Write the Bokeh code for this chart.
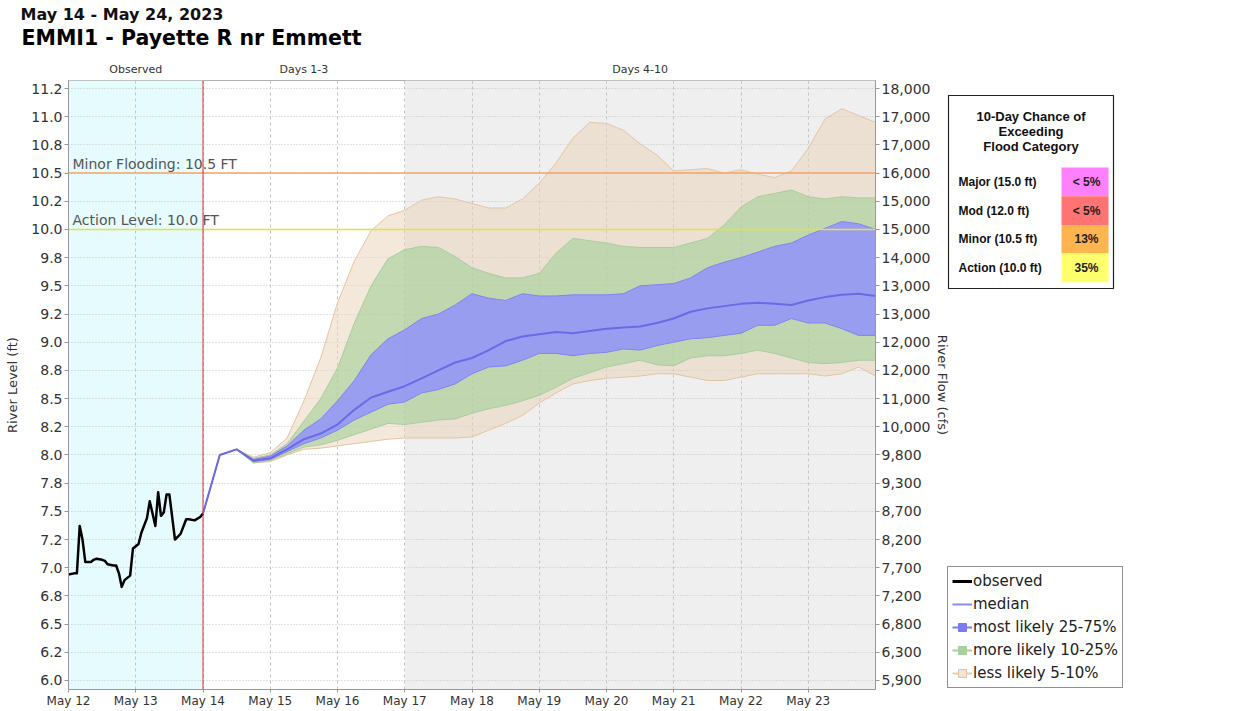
import pandas as pd
from bokeh.plotting import figure
from bokeh.models import (Range1d, LinearAxis, FixedTicker, Span, Label, BoxAnnotation,
                          Legend, LegendItem)
from bokeh.layouts import row, column
from bokeh.embed import file_html
from bokeh.resources import INLINE
from bokeh.core.properties import value

# ---------------- data ----------------
title_text = "EMMI1 - Payette R nr Emmett"
subtitle_text = "May 14 - May 24, 2023"

obs_start = "2023-05-12 00:00"
obs_hours = [0, 2, 3, 4, 5, 6, 8, 9, 10, 12, 13, 14, 16, 17, 18, 19, 20, 22, 23, 25, 26,
             28, 29, 31, 32, 33, 34, 35, 36, 38, 40, 42, 43, 45, 47, 48]
obs_level = [6.94, 6.95, 6.95, 7.37, 7.25, 7.05, 7.05, 7.07, 7.08, 7.07, 7.06, 7.03, 7.02,
             7.02, 6.95, 6.83, 6.89, 6.93, 7.17, 7.21, 7.31, 7.44, 7.59, 7.37, 7.67, 7.46,
             7.49, 7.65, 7.65, 7.25, 7.30, 7.43, 7.43, 7.42, 7.45, 7.48]

fc_start = "2023-05-14 00:00"
fc_step_hours = 6
fc_median = [7.48, 8.00, 8.05, 7.95, 7.97, 8.05, 8.14, 8.19, 8.27, 8.40, 8.51, 8.56, 8.61,
             8.68, 8.75, 8.82, 8.86, 8.93, 9.01, 9.05, 9.07, 9.09, 9.08, 9.10, 9.12, 9.13,
             9.14, 9.17, 9.21, 9.27, 9.30, 9.32, 9.34, 9.35, 9.34, 9.33, 9.37, 9.40, 9.42,
             9.43, 9.41]
fc_p75 = [7.48, 8.00, 8.05, 7.96, 7.99, 8.08, 8.22, 8.32, 8.48, 8.66, 8.89, 9.03, 9.11,
          9.21, 9.25, 9.33, 9.43, 9.39, 9.37, 9.43, 9.41, 9.41, 9.42, 9.42, 9.42, 9.43,
          9.50, 9.51, 9.52, 9.57, 9.66, 9.71, 9.75, 9.80, 9.85, 9.88, 9.95, 10.01, 10.07,
          10.05, 10.00]
fc_p25 = [7.48, 8.00, 8.05, 7.94, 7.96, 8.03, 8.10, 8.15, 8.22, 8.31, 8.38, 8.45, 8.47,
          8.55, 8.58, 8.63, 8.72, 8.78, 8.79, 8.84, 8.90, 8.90, 8.88, 8.90, 8.91, 8.94,
          8.93, 8.97, 9.00, 9.03, 9.04, 9.06, 9.08, 9.15, 9.15, 9.21, 9.17, 9.17, 9.12,
          9.06, 9.06]
fc_p90 = [7.48, 8.00, 8.05, 7.97, 8.00, 8.10, 8.30, 8.50, 8.77, 9.17, 9.50, 9.74, 9.82,
          9.85, 9.84, 9.76, 9.66, 9.61, 9.57, 9.57, 9.61, 9.79, 9.92, 9.90, 9.88, 9.85,
          9.84, 9.84, 9.84, 9.88, 9.92, 10.04, 10.20, 10.29, 10.32, 10.35, 10.29, 10.27,
          10.29, 10.28, 10.28]
fc_p10 = [7.48, 8.00, 8.05, 7.93, 7.95, 8.01, 8.07, 8.09, 8.13, 8.18, 8.23, 8.28, 8.27,
          8.29, 8.31, 8.32, 8.37, 8.41, 8.44, 8.48, 8.53, 8.60, 8.68, 8.73, 8.78, 8.81,
          8.84, 8.80, 8.79, 8.86, 8.88, 8.88, 8.90, 8.93, 8.90, 8.86, 8.82, 8.81, 8.82,
          8.84, 8.84]
fc_p95 = [7.48, 8.00, 8.05, 7.98, 8.02, 8.15, 8.48, 8.86, 9.35, 9.72, 9.99, 10.12, 10.17,
          10.26, 10.29, 10.27, 10.23, 10.19, 10.19, 10.27, 10.41, 10.59, 10.81, 10.95,
          10.94, 10.88, 10.76, 10.66, 10.52, 10.53, 10.54, 10.50, 10.53, 10.49, 10.46,
          10.52, 10.72, 10.98, 11.07, 11.01, 10.95]
fc_p05 = [7.48, 8.00, 8.05, 7.93, 7.94, 8.00, 8.05, 8.06, 8.08, 8.10, 8.12, 8.14, 8.15,
          8.15, 8.15, 8.15, 8.16, 8.22, 8.28, 8.35, 8.46, 8.55, 8.63, 8.66, 8.68, 8.69,
          8.70, 8.72, 8.72, 8.69, 8.66, 8.66, 8.69, 8.72, 8.72, 8.72, 8.72, 8.70, 8.72,
          8.78, 8.70]

level_ticks = [6.0, 6.25, 6.5, 6.75, 7.0, 7.25, 7.5, 7.75, 8.0, 8.25, 8.5, 8.75, 9.0,
               9.25, 9.5, 9.75, 10.0, 10.25, 10.5, 10.75, 11.0, 11.25]
level_tick_labels = ["6.0", "6.2", "6.5", "6.8", "7.0", "7.2", "7.5", "7.8", "8.0", "8.2",
                     "8.5", "8.8", "9.0", "9.2", "9.5", "9.8", "10.0", "10.2", "10.5",
                     "10.8", "11.0", "11.2"]
flow_tick_labels = ["5,900", "6,300", "6,800", "7,200", "7,700", "8,200", "8,700", "9,300",
                    "9,800", "10,000", "11,000", "12,000", "12,000", "13,000", "13,000",
                    "14,000", "15,000", "15,000", "16,000", "17,000", "17,000", "18,000"]

day_dates = ["2023-05-%02d" % d for d in range(12, 24)]
day_labels = ["May 12", "May 13", "May 14", "May 15", "May 16", "May 17", "May 18",
              "May 19", "May 20", "May 21", "May 22", "May 23"]

period_names = ["Observed", "Days 1-3", "Days 4-10"]
period_bounds = ["2023-05-12", "2023-05-14", "2023-05-17", "2023-05-24"]

flood_levels = [10.5, 10.0]
flood_texts = ["Minor Flooding: 10.5 FT", "Action Level: 10.0 FT"]

cat_labels = ["Major (15.0 ft)", "Mod (12.0 ft)", "Minor (10.5 ft)", "Action (10.0 ft)"]
cat_chance = ["< 5%", "< 5%", "13%", "35%"]
table_title = ["10-Day Chance of", "Exceeding", "Flood Category"]

legend_labels = ["observed", "median", "most likely 25-75%", "more likely 10-25%",
                 "less likely 5-10%"]

# ---------------- helpers ----------------
def ms(s):
    return int(pd.Timestamp(s).value // 10**6)

obs_x = [pd.Timestamp(obs_start) + pd.Timedelta(hours=h) for h in obs_hours]
fc_x = [pd.Timestamp(fc_start) + pd.Timedelta(hours=fc_step_hours * i) for i in range(len(fc_median))]
day_ms = [ms(d) for d in day_dates]
bounds_ms = [ms(b) for b in period_bounds]
period_centers = [int((a + b) // 2) for a, b in zip(bounds_ms[:-1], bounds_ms[1:])]

FONT = "DejaVu Sans"
ylo, yhi = 5.920, 11.321

# layout (pixels)
PAGE_W, PAGE_H = 1236, 711
HEAD_H = 75
W_MAIN = 953
H_MAIN = PAGE_H - HEAD_H
FR_L, FR_R, FR_T, FR_B = 68, 78, 5, 22   # borders around the plot frame
FRAME_TOP = HEAD_H + FR_T                 # page y of the frame top
FRAME_BOT = PAGE_H - FR_B                 # page y of the frame bottom
Q_SHIFT = 6
Q_X0 = W_MAIN - Q_SHIFT
Q_W = PAGE_W - W_MAIN

# colours
C_OBS_BG = "#e6fbfd"
C_FUT_BG = "#efefef"
C_TAN, C_TAN_E = "#e8d2b5", "#e2c6a4"
C_GRN, C_GRN_E = "#a3cf98", "#a9cd9f"
C_BLU, C_BLU_E = "#8e8eff", "#8383f2"
C_MED = "#6a6ae6"
flood_colors = ["#f5a46a", "#e6e23a"]
cat_colors = ["#ff80ff", "#ff7373", "#ffb450", "#ffff6e"]

# ---------------- main figure ----------------
p = figure(width=W_MAIN, height=H_MAIN, x_axis_type="datetime", title=None,
           x_range=Range1d(bounds_ms[0], bounds_ms[-1]), y_range=Range1d(ylo, yhi),
           output_backend="svg", toolbar_location=None,
           min_border_left=FR_L, min_border_right=FR_R, min_border_top=FR_T,
           min_border_bottom=FR_B)
p.outline_line_color = "#b0b0b0"
p.background_fill_color = "white"

p.add_layout(BoxAnnotation(left=bounds_ms[0], right=bounds_ms[1], fill_color=C_OBS_BG,
                           fill_alpha=1, line_alpha=0, level="image"))
p.add_layout(BoxAnnotation(left=bounds_ms[2], right=bounds_ms[3], fill_color=C_FUT_BG,
                           fill_alpha=1, line_alpha=0, level="image"))

# grids
p.xgrid.ticker = FixedTicker(ticks=day_ms)
p.ygrid.ticker = FixedTicker(ticks=level_ticks)
p.xgrid.grid_line_color = "#c4c4c4"
p.xgrid.grid_line_dash = "3 3"
p.ygrid.grid_line_color = "#c4c4c4"
p.ygrid.grid_line_dash = "1 2"

# bands
p.varea(x=fc_x, y1=fc_p05, y2=fc_p95, fill_color=C_TAN, fill_alpha=0.5)
p.line(fc_x, fc_p95, line_color=C_TAN_E, line_width=1)
p.line(fc_x, fc_p05, line_color=C_TAN_E, line_width=1)
p.varea(x=fc_x, y1=fc_p10, y2=fc_p90, fill_color=C_GRN, fill_alpha=0.6)
p.line(fc_x, fc_p90, line_color=C_GRN_E, line_width=1)
p.line(fc_x, fc_p10, line_color=C_GRN_E, line_width=1)
p.varea(x=fc_x, y1=fc_p25, y2=fc_p75, fill_color=C_BLU, fill_alpha=0.8)
p.line(fc_x, fc_p75, line_color=C_BLU_E, line_width=1)
p.line(fc_x, fc_p25, line_color=C_BLU_E, line_width=1)
p.line(fc_x, fc_median, line_color=C_MED, line_width=2)

# observed
p.line(obs_x, obs_level, line_color="black", line_width=2.5, line_join="round")

# flood lines
for lvl, txt, col in zip(flood_levels, flood_texts, flood_colors):
    p.add_layout(Span(location=lvl, dimension="width", line_color=col, line_width=1.5))
    p.add_layout(Label(x=bounds_ms[0], y=lvl, text=txt, x_offset=4, y_offset=1,
                       text_font=FONT, text_font_size="14px", text_color="#555555",
                       text_baseline="bottom"))

# forecast start
p.add_layout(Span(location=bounds_ms[1], dimension="height", line_color="#e03030", line_width=1))

# axes
p.xaxis.ticker = FixedTicker(ticks=day_ms)
p.xaxis.major_label_overrides = dict(zip(day_ms, day_labels))
p.xaxis.major_label_text_font = FONT
p.xaxis.major_label_text_font_size = "12px"
p.xaxis.major_label_text_color = "#333333"
p.xaxis.major_label_standoff = 1
p.xaxis.major_tick_out = 3
p.xaxis.major_tick_in = 0
p.xaxis.minor_tick_line_color = None
p.xaxis.axis_line_color = "#999999"
p.xaxis.major_tick_line_color = "#999999"

p.yaxis.ticker = FixedTicker(ticks=level_ticks)
p.yaxis.major_label_overrides = dict(zip(level_ticks, level_tick_labels))
p.yaxis.axis_label = "River Level (ft)"

right_axis = LinearAxis(y_range_name="flow", ticker=FixedTicker(ticks=level_ticks),
                        major_label_overrides=dict(zip(level_ticks, flow_tick_labels)),
                        axis_label="River Flow (cfs)")
p.extra_y_ranges = {"flow": Range1d(ylo, yhi)}
p.add_layout(right_axis, "right")

for ax in [p.yaxis[0], right_axis]:
    ax.major_label_text_font = FONT
    ax.major_label_text_font_size = "14px"
    ax.major_label_text_color = "#333333"
    ax.major_label_standoff = 2
    ax.major_tick_out = 4
    ax.major_tick_in = 0
    ax.minor_tick_line_color = None
    ax.axis_line_color = "#999999"
    ax.major_tick_line_color = "#999999"
    ax.axis_label_text_font = FONT
    ax.axis_label_text_font_size = "13px"
    ax.axis_label_text_font_style = "normal"
    ax.axis_label_text_color = "#333333"
p.yaxis[0].axis_label_standoff = 8
right_axis.axis_label_standoff = 2

# ---------------- header (titles + period headings) ----------------
# x in page pixels; an extra time range maps the same pixels onto the plot's dates
ms_per_px = (bounds_ms[-1] - bounds_ms[0]) / (W_MAIN - FR_L - FR_R)
head = figure(width=PAGE_W, height=HEAD_H, x_range=Range1d(0, PAGE_W),
              y_range=Range1d(HEAD_H, 0), output_backend="svg", toolbar_location=None,
              min_border=0, x_axis_location=None, y_axis_location=None)
head.extra_x_ranges = {"time": Range1d(bounds_ms[0] - FR_L * ms_per_px,
                                       bounds_ms[0] + (PAGE_W - FR_L) * ms_per_px)}
head.grid.visible = False
head.outline_line_color = None
head.text(x=[20], y=[14], text=[subtitle_text], text_font=value(FONT),
          text_font_size="16px", text_font_style="bold", text_baseline="middle",
          text_color="#111111")
head.text(x=[21], y=[37], text=[title_text], text_font=value(FONT),
          text_font_size="20.5px", text_font_style="bold", text_baseline="middle",
          text_color="black")
head.text(x=period_centers, y=[69] * len(period_names), text=period_names,
          x_range_name="time", text_font=value(FONT), text_font_size="11px",
          text_align="center", text_baseline="middle", text_color="#333333")

# ---------------- side panel (table + legend), page pixel coordinates ----------------
# (the row aligns this panel's frame with the main plot frame vertically)
q = figure(width=Q_W, height=H_MAIN, x_range=Range1d(Q_X0, Q_X0 + Q_W),
           y_range=Range1d(FRAME_BOT, FRAME_TOP), output_backend="svg",
           toolbar_location=None, min_border=0, min_border_top=FR_T,
           min_border_bottom=FR_B, x_axis_location=None, y_axis_location=None)
q.margin = (0, 0, 0, -Q_SHIFT)
q.grid.visible = False
q.outline_line_color = None
q.background_fill_color = None
q.border_fill_color = None

tb_l, tb_r, tb_t, tb_b = 948, 1113, 95, 288
q.quad(left=[tb_l], right=[tb_r], top=[tb_t], bottom=[tb_b], fill_color="white",
       line_color="#222222", line_width=1.2)
title_y = [tb_t + 21 + 15 * i for i in range(len(table_title))]
q.text(x=[(tb_l + tb_r) / 2] * len(table_title), y=title_y, text=table_title,
       text_font=value("Liberation Sans"), text_font_style="bold", text_font_size="13px",
       text_align="center", text_baseline="middle", text_color="#111111")
row_h = 28.7
row_top0 = 167
rows_top = [row_top0 + row_h * i for i in range(len(cat_labels))]
rows_mid = [t + row_h / 2 for t in rows_top]
q.quad(left=[1061] * len(cat_labels), right=[1108] * len(cat_labels), top=rows_top,
       bottom=[t + row_h for t in rows_top], fill_color=cat_colors, line_color=None)
q.text(x=[958] * len(cat_labels), y=rows_mid, text=cat_labels,
       text_font=value("Liberation Sans"), text_font_style="bold", text_font_size="12px",
       text_align="left", text_baseline="middle", text_color="#111111")
q.text(x=[1086] * len(cat_labels), y=rows_mid, text=cat_chance,
       text_font=value("Liberation Sans"), text_font_style="bold", text_font_size="12px",
       text_align="center", text_baseline="middle", text_color="#222222")

# legend renderers (kept out of view; only their legend glyphs show)
off_x, off_y = [-1000, -990], [-1000, -1000]
r_obs = q.line(x=off_x, y=off_y, line_color="black", line_width=3)
r_med = q.line(x=off_x, y=off_y, line_color="#8a8af5", line_width=2)
r_b1 = q.line(x=off_x, y=off_y, line_color="#7a7af5", line_width=2)
r_b2 = q.scatter(x=off_x, y=off_y, marker="square", size=7, fill_color="#7a7af5", line_color="#7a7af5")
r_g1 = q.line(x=off_x, y=off_y, line_color="#a8cfa0", line_width=2)
r_g2 = q.scatter(x=off_x, y=off_y, marker="square", size=7, fill_color="#a8cfa0", line_color="#a8cfa0")
r_t1 = q.line(x=off_x, y=off_y, line_color="#e6cdb3", line_width=2)
r_t2 = q.scatter(x=off_x, y=off_y, marker="square", size=7, fill_color="#f3e6d8", line_color="#e0c4a6")

legend = Legend(items=[
    LegendItem(label=legend_labels[0], renderers=[r_obs]),
    LegendItem(label=legend_labels[1], renderers=[r_med]),
    LegendItem(label=legend_labels[2], renderers=[r_b1, r_b2]),
    LegendItem(label=legend_labels[3], renderers=[r_g1, r_g2]),
    LegendItem(label=legend_labels[4], renderers=[r_t1, r_t2]),
], location=(0, FRAME_BOT - 688))
legend.border_line_color = "#222222"
legend.border_line_width = 1.2
legend.background_fill_alpha = 1
legend.label_text_font = FONT
legend.label_text_font_size = "15px"
legend.label_text_color = "#222222"
legend.glyph_width = 20
legend.glyph_height = 20
legend.label_height = 20
legend.label_standoff = 1
legend.spacing = 3
legend.padding = 4
legend.margin = 0
q.add_layout(legend)

layout = column(head, row(p, q))
open("out.html", "w").write(file_html(layout, INLINE))
